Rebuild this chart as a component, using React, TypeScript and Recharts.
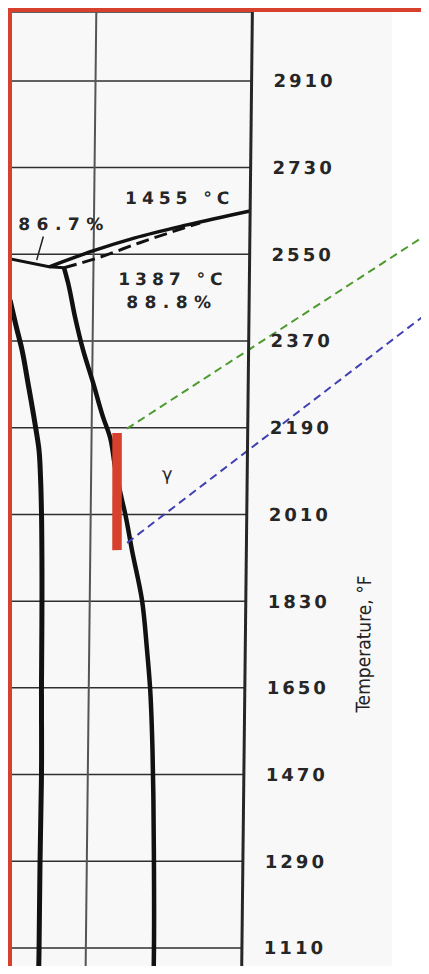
import {
  ComposedChart,
  Line,
  XAxis,
  YAxis,
  CartesianGrid,
  ReferenceLine,
  ReferenceDot,
} from "recharts";

// temperature axis, °F
const tempTicks = [2910, 2730, 2550, 2370, 2190, 2010, 1830, 1650, 1470, 1290, 1110];

// left phase boundary
const leftX = [2.4, 4.9, 7.5, 10.1, 13.1, 14.9, 15.7, 16.2, 16.6, 16.8, 17.0, 17.4, 17.2, 17.2, 17.1];
const leftT = [2455, 2403, 2352, 2283, 2200, 2144, 2082, 2015, 1916, 1833, 1652, 1465, 1287, 1104, 1044];

// gamma boundary
const gammaX = [24.3, 26.0, 29.0, 32.4, 36.7, 40.9, 43.8, 46.0, 49.0, 50.3, 53.3, 57.6, 59.9, 61.3, 62.6, 63.2, 63.7, 64.1, 64.1];
const gammaT = [2522, 2491, 2420, 2352, 2283, 2212, 2171, 2109, 2040, 2013, 1936, 1833, 1729, 1652, 1521, 1417, 1287, 1104, 1044];

// peritectic line
const periX = [0, 18.2, 24.3];
const periT = [2543, 2524, 2522];

// liquidus
const liqX = [18.2, 36.0, 53.1, 74.3, 100];
const liqT = [2524, 2557, 2584, 2611, 2640];

// solidus (dashed)
const solX = [24.3, 37.7, 55.1, 72.7, 79.6];
const solT = [2522, 2542, 2574, 2604, 2615];

// leader for 86.7%
const leaderX = [15.7, 13.1];
const leaderT = [2587, 2538];

// highlighted range
const barX = [46.7, 47.2];
const barT = [2179, 1936];

// pointer lines
const greenX = [50.7, 177.6];
const greenT = [2188, 2609];
const blueX = [51.3, 177.9];
const blueT = [1951, 2448];

const gridX = 36.3;

const noteText = ["1455 °C", "86.7%", "1387 °C", "88.8%"];
const noteX = [71.2, 24.1, 68.8, 68.5];
const noteT = [2666, 2613, 2499, 2451];
const noteSpacing = [5, 6.5, 5, 6.5];
const gammaLabel = { text: "γ", x: 67.3, t: 2094 };

const pts = (xs: number[], ts: number[]) => xs.map((x, i) => ({ x, t: ts[i] }));

const TempTick = (props: any) => {
  const { x, y, payload } = props;
  return (
    <text
      x={x}
      y={y}
      dy="0.36em"
      textAnchor="start"
      fill="#262626"
      fontFamily="DejaVu Sans"
      fontWeight={700}
      fontSize={18}
      letterSpacing={3}
    >
      {payload.value}
    </text>
  );
};

const note = (text: string, size: number, bold: boolean, spacing: number) => (props: any) => {
  const vb = props.viewBox || {};
  const cx = vb.x + (vb.width || 0) / 2;
  const cy = vb.y + (vb.height || 0) / 2;
  return (
    <text
      x={cx}
      y={cy}
      textAnchor="middle"
      dominantBaseline="central"
      fill="#262626"
      fontFamily="DejaVu Sans"
      fontWeight={bold ? 700 : 400}
      fontSize={size}
      letterSpacing={spacing}
    >
      {text}
    </text>
  );
};

const axisTitle = (props: any) => {
  const vb = props.viewBox || {};
  const cx = vb.x + 118;
  const cy = vb.y + 632;
  return (
    <text
      x={cx}
      y={cy}
      transform={`rotate(-90 ${cx} ${cy})`}
      textAnchor="middle"
      dominantBaseline="central"
      fill="#222"
      fontFamily="'Liberation Sans Narrow', 'DejaVu Sans Condensed', sans-serif"
      fontSize={19}
    >
      Temperature, °F
    </text>
  );
};

const curve = { dot: false, activeDot: false, isAnimationActive: false, dataKey: "t" } as const;

export default function App() {
  return (
    <div
      style={{
        width: 417,
        borderLeft: "4px solid #d7402c",
        borderTop: "4px solid #d7402c",
        marginBottom: -8,
      }}
    >
      <div
        style={{
          position: "relative",
          width: 417,
          height: 962,
          overflow: "hidden",
          background: "linear-gradient(to right, #f8f8f8 0px, #f8f8f8 380px, #ffffff 380px)",
        }}
      >
        <div
          style={{
            position: "absolute",
            left: -10,
            top: 0,
            width: 430,
            height: 962,
            transform: "skewX(-0.64deg)",
            transformOrigin: "50% 50%",
          }}
        >
          <ComposedChart width={430} height={962} margin={{ top: 0, right: 0, bottom: 0, left: 0 }}>
            <CartesianGrid vertical={false} stroke="#2f2f2f" strokeWidth={1.5} />
            <XAxis dataKey="x" type="number" domain={[0, 100]} allowDataOverflow hide />
            <YAxis
              orientation="right"
              type="number"
              domain={[1056, 3053]}
              allowDataOverflow
              ticks={tempTicks}
              interval={0}
              width={185}
              tickLine={false}
              tickSize={0}
              tickMargin={22}
              axisLine={{ stroke: "#262626", strokeWidth: 3 }}
              tick={<TempTick />}
              label={axisTitle}
            />
            <ReferenceLine x={gridX} stroke="#555" strokeWidth={2} />

            <Line {...curve} data={pts(leftX, leftT)} type="monotoneY" stroke="#111" strokeWidth={5} />
            <Line {...curve} data={pts(gammaX, gammaT)} type="monotoneY" stroke="#111" strokeWidth={4.5} />
            <Line {...curve} data={pts(periX, periT)} type="linear" stroke="#111" strokeWidth={3} />
            <Line {...curve} data={pts(liqX, liqT)} type="monotone" stroke="#111" strokeWidth={3.5} />
            <Line
              {...curve}
              data={pts(solX, solT)}
              type="monotone"
              stroke="#111"
              strokeWidth={3}
              strokeDasharray="13 6"
            />
            <Line {...curve} data={pts(leaderX, leaderT)} type="linear" stroke="#222" strokeWidth={1.5} />
            <Line
              {...curve}
              data={pts(barX, barT)}
              type="linear"
              stroke="#d7402c"
              strokeWidth={9.5}
              strokeLinecap="butt"
            />

            <ReferenceLine
              segment={[
                { x: greenX[0], y: greenT[0] },
                { x: greenX[1], y: greenT[1] },
              ]}
              ifOverflow="visible"
              stroke="#4d9a2f"
              strokeWidth={2}
              strokeDasharray="8 5"
            />
            <ReferenceLine
              segment={[
                { x: blueX[0], y: blueT[0] },
                { x: blueX[1], y: blueT[1] },
              ]}
              ifOverflow="visible"
              stroke="#3f3fb3"
              strokeWidth={2}
              strokeDasharray="8 5"
            />

            {noteText.map((text, i) => (
              <ReferenceDot
                key={text}
                x={noteX[i]}
                y={noteT[i]}
                r={0}
                fill="none"
                stroke="none"
                label={note(text, 17, true, noteSpacing[i])}
              />
            ))}
            <ReferenceDot
              x={gammaLabel.x}
              y={gammaLabel.t}
              r={0}
              fill="none"
              stroke="none"
              label={note(gammaLabel.text, 18, false, 0)}
            />
          </ComposedChart>
        </div>
      </div>
    </div>
  );
}
